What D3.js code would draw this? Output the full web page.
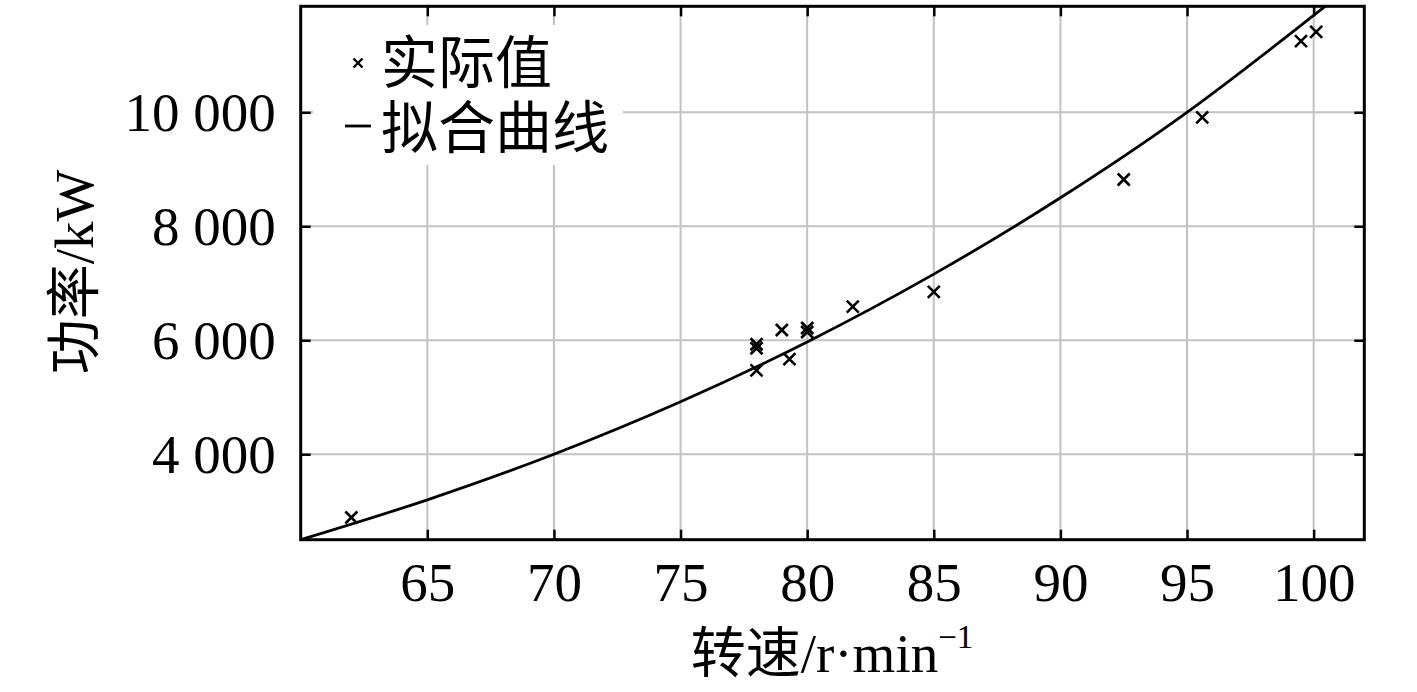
<!DOCTYPE html>
<html><head><meta charset="utf-8">
<script src="https://cdn.jsdelivr.net/npm/d3@7/dist/d3.min.js"></script>
<style>
html,body{margin:0;padding:0;background:#fff;}
text{font-family:"Liberation Serif","Noto Sans CJK SC",serif;fill:#000;}
</style></head>
<body><svg id="c" width="1417" height="692"></svg>
<script>
// measured points (speed r/min, power kW)
const speed = [62, 78, 78, 78, 79, 79.3, 80, 80, 81.8, 85, 92.5, 95.6, 99.5, 100.1];
const power = [2890, 5470, 5860, 5930, 6180, 5670, 6145, 6215, 6590, 6850, 8820, 9910, 11250, 11410];
// fitted curve
const fitSpeed = [60, 65, 70, 75, 80, 85, 90, 95, 100, 101];
const fitPower = [2500, 3200, 4000, 4920, 5970, 7160, 8500, 10000, 11700, 12050];
const xTicks = [65, 70, 75, 80, 85, 90, 95, 100];
const yTicks = [4000, 6000, 8000, 10000];
const yTickLabels = ["4 000", "6 000", "8 000", "10 000"];
const legendLabels = ["实际值", "拟合曲线"];

const svg = d3.select("#c");
const L = 300.7, R = 1364.3, T = 6.3, B = 539.7;
const x = d3.scaleLinear().domain([60, 102]).range([L, R]);
const y = d3.scaleLinear().domain([2500, 11860]).range([B, T]);

const defs = svg.append("defs");
defs.append("clipPath").attr("id", "clip").append("rect")
  .attr("x", L).attr("y", T).attr("width", R - L).attr("height", B - T);

// grid
const grid = svg.append("g").attr("stroke", "#c2c2c2").attr("stroke-width", 2);
grid.selectAll(".gx").data(xTicks).join("line")
  .attr("x1", d => x(d)).attr("x2", d => x(d)).attr("y1", T).attr("y2", B);
grid.selectAll(".gy").data(yTicks).join("line")
  .attr("y1", d => y(d)).attr("y2", d => y(d)).attr("x1", L).attr("x2", R);

// legend background (blocks grid)
svg.append("rect").attr("x", 313).attr("y", 25).attr("width", 310).attr("height", 140).attr("fill", "#fff");

// axes with inward ticks on all sides
const fs = 55;
const axB = svg.append("g").attr("transform", `translate(0,${B})`)
  .call(d3.axisBottom(x).tickValues(xTicks).tickSizeInner(-10).tickSizeOuter(0).tickPadding(22));
const axT = svg.append("g").attr("transform", `translate(0,${T})`)
  .call(d3.axisTop(x).tickValues(xTicks).tickSizeInner(-10).tickSizeOuter(0).tickFormat(""));
const axLft = svg.append("g").attr("transform", `translate(${L},0)`)
  .call(d3.axisLeft(y).tickValues(yTicks).tickSizeInner(-10).tickSizeOuter(0).tickPadding(25)
    .tickFormat((d, i) => yTickLabels[i]));
const axR = svg.append("g").attr("transform", `translate(${R},0)`)
  .call(d3.axisRight(y).tickValues(yTicks).tickSizeInner(-10).tickSizeOuter(0).tickFormat(""));
[axB, axT, axLft, axR].forEach(a => {
  a.select(".domain").remove();
  a.selectAll(".tick line").attr("stroke", "#000").attr("stroke-width", 2.5);
  a.selectAll("text").attr("font-size", fs).attr("font-family", "Liberation Serif");
});
axB.selectAll("text").attr("dy", "0.72em");
axLft.selectAll("text").attr("dy", "0.34em");

// fitted curve
const line = d3.line().x((d, i) => x(fitSpeed[i])).y((d, i) => y(fitPower[i])).curve(d3.curveMonotoneX);
svg.append("path").datum(fitSpeed).attr("d", line).attr("clip-path", "url(#clip)")
  .attr("fill", "none").attr("stroke", "#000").attr("stroke-width", 2.8);

// cross markers
const cs = 6;
svg.append("g").selectAll("path").data(speed).join("path")
  .attr("d", (d, i) => {
    const px = x(d), py = y(power[i]);
    return `M${px - cs},${py - cs}L${px + cs},${py + cs}M${px - cs},${py + cs}L${px + cs},${py - cs}`;
  })
  .attr("stroke", "#000").attr("stroke-width", 2.6).attr("fill", "none");

// frame
svg.append("rect").attr("x", L).attr("y", T).attr("width", R - L).attr("height", B - T)
  .attr("fill", "none").attr("stroke", "#000").attr("stroke-width", 3);

// legend
const lg = svg.append("g");
const mx = 358, my = 63, ms = 4.5;
lg.append("path").attr("d", `M${mx - ms},${my - ms}L${mx + ms},${my + ms}M${mx - ms},${my + ms}L${mx + ms},${my - ms}`)
  .attr("stroke", "#000").attr("stroke-width", 2.4);
lg.append("line").attr("x1", 345).attr("x2", 371).attr("y1", 126).attr("y2", 126)
  .attr("stroke", "#000").attr("stroke-width", 2.8);
lg.selectAll("text").data(legendLabels).join("text")
  .attr("x", 381).attr("y", (d, i) => 62 + i * 65).attr("dy", "0.36em")
  .attr("font-size", 57).attr("font-family", "Noto Sans CJK SC").text(d => d);

// axis titles
const xt = svg.append("text").attr("x", 832).attr("y", 672).attr("text-anchor", "middle").attr("font-size", fs);
xt.append("tspan").attr("font-family", "Noto Sans CJK SC").text("转速");
xt.append("tspan").text("/r·min");
xt.append("tspan").attr("font-size", 33).attr("dy", -24).text("−1");

const yt = svg.append("text").attr("transform", "translate(93,272) rotate(-90)")
  .attr("text-anchor", "middle").attr("font-size", fs);
yt.append("tspan").attr("font-family", "Noto Sans CJK SC").text("功率");
yt.append("tspan").text("/kW");
</script></body></html>
